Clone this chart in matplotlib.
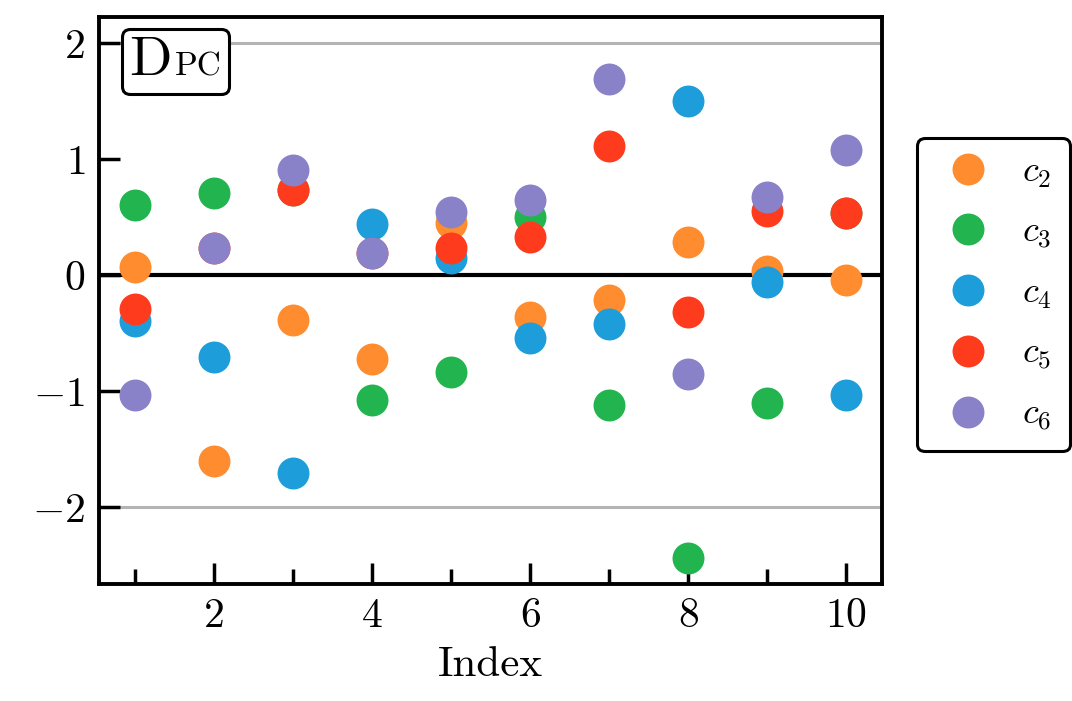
import matplotlib
matplotlib.use('Agg')
import matplotlib.pyplot as plt
from matplotlib.offsetbox import AnchoredOffsetbox, HPacker, TextArea

# data
index = [1, 2, 3, 4, 5, 6, 7, 8, 9, 10]
c2 = [0.07, -1.60, -0.39, -0.72, 0.45, -0.36, -0.22, 0.28, 0.03, -0.04]
c3 = [0.60, 0.71, 0.73, -1.08, -0.84, 0.50, -1.12, -2.44, -1.10, 0.53]
c4 = [-0.40, -0.71, -1.71, 0.44, 0.15, -0.54, -0.42, 1.50, -0.06, -1.03]
c5 = [-0.29, 0.23, 0.73, 0.19, 0.23, 0.33, 1.11, -0.32, 0.55, 0.53]
c6 = [-1.03, 0.23, 0.90, 0.19, 0.54, 0.65, 1.69, -0.85, 0.67, 1.08]

series = [c2, c3, c4, c5, c6]
labels = ['$c_2$', '$c_3$', '$c_4$', '$c_5$', '$c_6$']
colors = ['#ff8c2e', '#22b54f', '#1e9ddb', '#ff3b1e', '#8a82c8']

yticks = [-2, -1, 0, 1, 2]
xticks = [2, 4, 6, 8, 10]
xminor = [1, 3, 5, 7, 9]

plt.rcParams['font.family'] = ['cmr10', 'DejaVu Serif']
plt.rcParams['mathtext.fontset'] = 'cm'

fig = plt.figure(figsize=(10.72, 7.01), dpi=100)
ax = fig.add_axes([0.0923, 0.167, 0.7305, 0.8087])

# reference lines (axhline also feeds the y autoscale, like the original)
ax.axhline(2, color='#b4b4b4', lw=2.2, zorder=1)
ax.axhline(-2, color='#b4b4b4', lw=2.2, zorder=1)
ax.axhline(0, color='black', lw=3.0, zorder=1)

for vals, lab, col in zip(series, labels, colors):
    ax.plot(index, vals, 'o', ms=23, color=col, mec='none', label=lab, zorder=3)

ax.set_xticks(xticks, labels=[f'${v}$' for v in xticks])
ax.set_xticks(xminor, minor=True)
ax.set_yticks(yticks, labels=[f'${v}$' for v in yticks])
ax.tick_params(axis='both', which='major', direction='in', length=15, width=2.5,
               labelsize=30, pad=10)
ax.tick_params(axis='x', which='minor', direction='in', length=11, width=2.5)
ax.tick_params(axis='y', which='minor', left=False)
for sp in ax.spines.values():
    sp.set_linewidth(2.8)

ax.set_xlabel('Index', fontsize=31, labelpad=8)

# D_PC tag, PC set smaller on the same baseline
tag = HPacker(children=[TextArea('D', textprops=dict(fontsize=40)),
                        TextArea('PC', textprops=dict(fontsize=24))],
              align='baseline', pad=0, sep=2)
box = AnchoredOffsetbox(loc='upper left', child=tag, pad=0.4, borderpad=0.0,
                        frameon=True, bbox_to_anchor=(0.032, 0.975),
                        bbox_transform=ax.transAxes)
box.patch.set_boxstyle('round,pad=0.15,rounding_size=0.6')
box.patch.set_edgecolor('black')
box.patch.set_linewidth(2.2)
ax.add_artist(box)

leg = ax.legend(loc='center left', bbox_to_anchor=(1.022, 0.51), fontsize=26,
                frameon=True, fancybox=True, edgecolor='black', framealpha=1,
                handletextpad=0.6, labelspacing=0.75, borderpad=0.5,
                handlelength=1.8, markerscale=1.0)
leg.get_frame().set_linewidth(2.2)

fig.savefig('out.png', dpi=100)
